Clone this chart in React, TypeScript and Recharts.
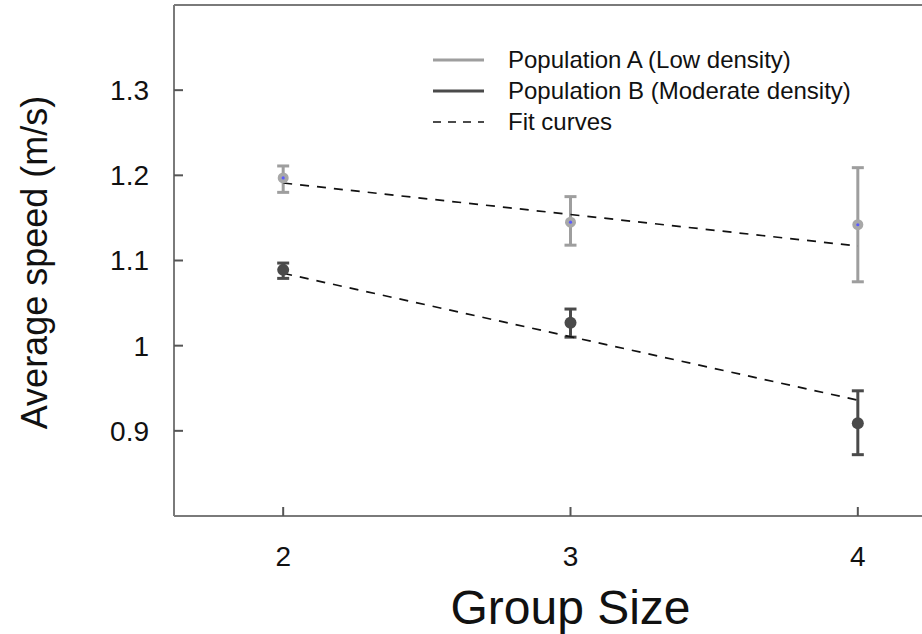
import React from 'react';
import { ComposedChart, Scatter, ErrorBar, XAxis, YAxis, Legend } from 'recharts';

const groupSizes = [2, 3, 4];
const popAMean = [1.197, 1.145, 1.142];
const popAErr = [[0.017, 0.014], [0.027, 0.03], [0.067, 0.067]];
const popBMean = [1.089, 1.027, 0.909];
const popBErr = [[0.01, 0.008], [0.017, 0.016], [0.037, 0.038]];
const fitX = [2, 4];
const fitA = [1.191, 1.117];
const fitB = [1.085, 0.936];
const xTicks = [2, 3, 4];
const yTicks = [0.9, 1, 1.1, 1.2, 1.3];
const legendItems = [
    { label: 'Population A (Low density)', color: '#9e9e9e', dash: '' },
    { label: 'Population B (Moderate density)', color: '#4a4a4a', dash: '' },
    { label: 'Fit curves', color: '#111', dash: '8 7' },
];

const FONT = '"Liberation Sans", Arial, Helvetica, sans-serif';

const popA = groupSizes.map((x, i) => ({ x, y: popAMean[i], err: popAErr[i] }));
const popB = groupSizes.map((x, i) => ({ x, y: popBMean[i], err: popBErr[i] }));
const fitAData = fitX.map((x, i) => ({ x, y: fitA[i] }));
const fitBData = fitX.map((x, i) => ({ x, y: fitB[i] }));

const DotA = (props: any) => (
    <g>
        <circle cx={props.cx} cy={props.cy} r={5.5} fill="#a8a8a8" />
        <circle cx={props.cx} cy={props.cy} r={1.6} fill="#5a5aff" />
    </g>
);

const DotB = (props: any) => <circle cx={props.cx} cy={props.cy} r={6} fill="#4a4a4a" />;

const NoDot = () => <g />;

const LegendBox = () => (
    <div style={{ fontFamily: FONT, fontSize: 24, color: '#111' }}>
        {legendItems.map((item) => (
            <div key={item.label} style={{ display: 'flex', alignItems: 'center', height: 31, whiteSpace: 'nowrap' }}>
                <svg width={75} height={10}>
                    <line
                        x1={0}
                        y1={5}
                        x2={51}
                        y2={5}
                        stroke={item.color}
                        strokeWidth={item.dash ? 1.6 : 3}
                        strokeDasharray={item.dash || undefined}
                    />
                </svg>
                <span>{item.label}</span>
            </div>
        ))}
    </div>
);

const YLabel = (props: any) => {
    const vb = props.viewBox;
    const cy = vb.y + vb.height / 2 + 2;
    return (
        <text
            x={34}
            y={cy}
            transform={`rotate(-90, 34, ${cy})`}
            textAnchor="middle"
            dominantBaseline="central"
            fontFamily={FONT}
            fontSize={36}
            fill="#111"
        >
            Average speed (m/s)
        </text>
    );
};

const XLabel = (props: any) => {
    const vb = props.viewBox;
    return (
        <text
            x={vb.x + vb.width / 2}
            y={607}
            textAnchor="middle"
            dominantBaseline="central"
            fontFamily={FONT}
            fontSize={48}
            fill="#111"
        >
            Group Size
        </text>
    );
};

const axisLine = { stroke: '#7a7a7a', strokeWidth: 2 };
const tickLine = { stroke: '#555', strokeWidth: 2 };
const tickStyle = { fontFamily: FONT, fontSize: 28, fill: '#111' };

export default function App() {
    return (
        <div style={{ position: 'fixed', left: 0, top: 0, width: 922, height: 634, overflow: 'hidden', background: '#fff' }}>
            <ComposedChart width={980} height={634} margin={{ top: 4, right: 13, bottom: 0, left: 0 }}>
                <XAxis
                    type="number"
                    dataKey="x"
                    domain={[1.62, 4.38]}
                    ticks={xTicks}
                    allowDataOverflow
                    height={118}
                    tickSize={-9}
                    tickMargin={39}
                    fontSize={28}
                    axisLine={axisLine}
                    tickLine={tickLine}
                    tick={tickStyle}
                    label={<XLabel />}
                />
                <XAxis
                    xAxisId="top"
                    orientation="top"
                    type="number"
                    dataKey="x"
                    domain={[1.62, 4.38]}
                    ticks={xTicks}
                    allowDataOverflow
                    height={1}
                    tickSize={-9}
                    tick={false}
                    axisLine={axisLine}
                    tickLine={tickLine}
                />
                <YAxis
                    type="number"
                    dataKey="y"
                    domain={[0.8, 1.4]}
                    ticks={yTicks}
                    allowDataOverflow
                    width={174}
                    tickSize={-9}
                    tickMargin={34}
                    fontSize={28}
                    axisLine={axisLine}
                    tickLine={tickLine}
                    tick={tickStyle}
                    tickFormatter={(v: number) => String(v)}
                    label={<YLabel />}
                />
                <Legend
                    layout="vertical"
                    align="center"
                    verticalAlign="middle"
                    content={<LegendBox />}
                    wrapperStyle={{ left: 433, top: 44, width: 'auto' }}
                />
                <Scatter
                    data={fitAData}
                    line={{ stroke: '#111', strokeWidth: 1.7, strokeDasharray: '9 8' }}
                    shape={<NoDot />}
                    legendType="none"
                    isAnimationActive={false}
                />
                <Scatter
                    data={fitBData}
                    line={{ stroke: '#111', strokeWidth: 1.7, strokeDasharray: '9 8' }}
                    shape={<NoDot />}
                    legendType="none"
                    isAnimationActive={false}
                />
                <Scatter data={popA} shape={<DotA />} isAnimationActive={false}>
                    <ErrorBar dataKey="err" direction="y" width={6} stroke="#9e9e9e" strokeWidth={3} isAnimationActive={false} />
                </Scatter>
                <Scatter data={popB} shape={<DotB />} isAnimationActive={false}>
                    <ErrorBar dataKey="err" direction="y" width={6} stroke="#4a4a4a" strokeWidth={3} isAnimationActive={false} />
                </Scatter>
            </ComposedChart>
        </div>
    );
}
